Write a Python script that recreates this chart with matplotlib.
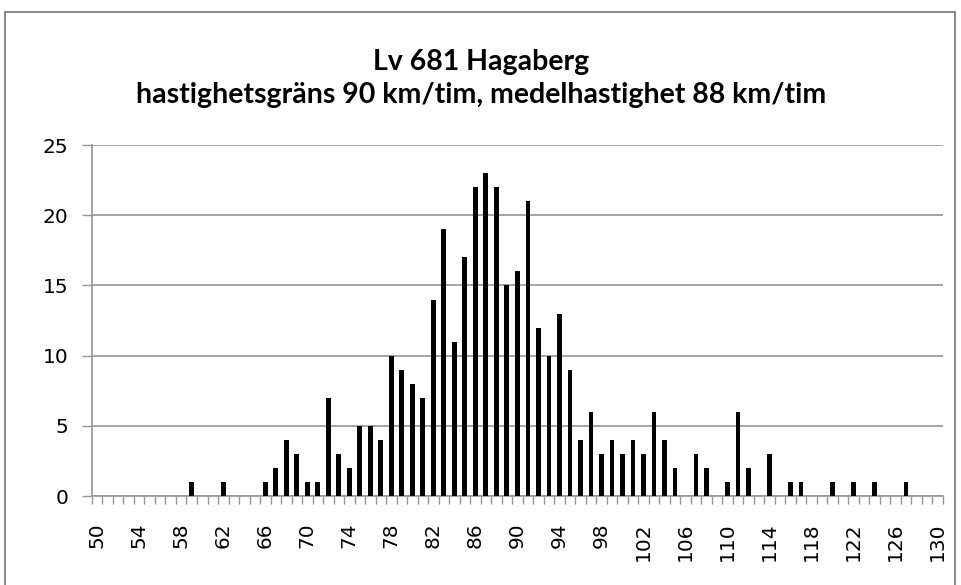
import numpy as np
import matplotlib
matplotlib.use("Agg")
import matplotlib.pyplot as plt
from matplotlib import ticker
from matplotlib.patches import Rectangle

speeds = list(range(50, 131))
counts_known = {
    59: 1, 62: 1, 66: 1, 67: 2, 68: 4, 69: 3, 70: 1, 71: 1, 72: 7, 73: 3,
    74: 2, 75: 5, 76: 5, 77: 4, 78: 10, 79: 9, 80: 8, 81: 7, 82: 14, 83: 19,
    84: 11, 85: 17, 86: 22, 87: 23, 88: 22, 89: 15, 90: 16, 91: 21, 92: 12,
    93: 10, 94: 13, 95: 9, 96: 4, 97: 6, 98: 3, 99: 4, 100: 3, 101: 4,
    102: 3, 103: 6, 104: 4, 105: 2, 107: 3, 108: 2, 110: 1, 111: 6, 112: 2,
    114: 3, 116: 1, 117: 1, 120: 1, 122: 1, 124: 1, 127: 1,
}
counts = [counts_known.get(s, 0) for s in speeds]
title = "Lv 681 Hagaberg\nhastighetsgräns 90 km/tim, medelhastighet 88 km/tim"

fig = plt.figure(figsize=(9.62, 5.85), dpi=100)
ax = fig.add_axes([0.0956, 0.152, 0.8844, 0.600])

x = np.arange(len(speeds))
ax.bar(x, counts, width=0.45, color="black", zorder=3)

ax.set_xlim(-0.5, len(speeds) - 0.5)
ax.set_ylim(0, 25)
ax.yaxis.set_major_locator(ticker.MultipleLocator(5))
ax.grid(axis="y", color="#959595", linewidth=1.2, zorder=0)

label_pos = [i for i, s in enumerate(speeds) if (s - 50) % 4 == 0]
ax.set_xticks(label_pos)
ax.set_xticklabels([str(speeds[i]) for i in label_pos], rotation=90,
                   fontsize=14.5, family="DejaVu Sans")
ax.xaxis.set_minor_locator(ticker.FixedLocator(np.arange(-0.5, len(speeds), 1)))
ax.tick_params(axis="x", which="major", length=0, pad=19)
ax.tick_params(axis="x", which="minor", length=6, color="#959595", width=1)
ax.tick_params(axis="y", length=7, color="#959595", width=1,
               labelsize=14.5, pad=10)
for lab in ax.get_yticklabels():
    lab.set_family("DejaVu Sans")

for side in ["top", "right"]:
    ax.spines[side].set_visible(False)
ax.spines["left"].set_color("#959595")
ax.spines["bottom"].set_color("#959595")
ax.spines["left"].set_linewidth(1.2)
ax.spines["bottom"].set_linewidth(1.2)

fig.text(0.5, 0.866, title, ha="center", va="center", fontsize=20.5,
         family="Lato", fontweight="bold", linespacing=1.3)

fig.patches.append(Rectangle((5 / 962, -0.05), 950 / 962, 1.05 - 12 / 585,
                             transform=fig.transFigure, fill=False,
                             edgecolor="#8c8c8c", linewidth=1.5))

fig.savefig("out.png", dpi=100)
